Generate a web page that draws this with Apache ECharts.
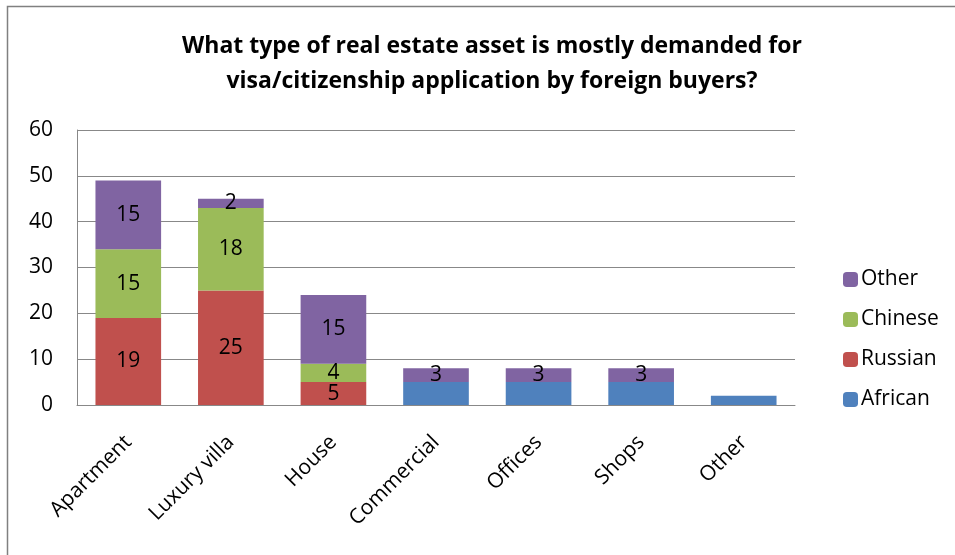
<!DOCTYPE html>
<html>
<head>
<meta charset="utf-8">
<script src="https://cdn.jsdelivr.net/npm/echarts@6/dist/echarts.min.js"></script>
<style>
html, body { margin: 0; padding: 0; background: #fff; }
#main { width: 955px; height: 555px; }
</style>
</head>
<body>
<div id="main"></div>
<script>
// data
var categories = ['Apartment', 'Luxury villa', 'House', 'Commercial', 'Offices', 'Shops', 'Other'];
var african = [0, 0, 0, 5, 5, 5, 2];
var russian = [19, 25, 5, 0, 0, 0, 0];
var chinese = [15, 18, 4, 0, 0, 0, 0];
var other = [15, 2, 15, 3, 3, 3, 0];
var yTicks = [0, 10, 20, 30, 40, 50, 60];

var font = '"Open Sans", "Noto Sans", sans-serif';
var myChart = echarts.init(document.getElementById('main'));

function barLabel(show) {
	return {
		show: show,
		position: 'inside',
		color: '#000',
		fontSize: 21,
		fontFamily: font,
		formatter: function (p) { return p.value ? p.value : ''; }
	};
}

var option = {
	animation: false,
	title: {
		text: 'What type of real estate asset is mostly demanded for\nvisa/citizenship application by foreign buyers?',
		left: 487,
		top: 24,
		textAlign: 'center',
		textStyle: {
			fontFamily: font,
			fontSize: 23,
			fontWeight: 'bold',
			color: '#000',
			lineHeight: 35
		}
	},
	graphic: [{
		type: 'rect',
		shape: { x: 7.5, y: 6.5, width: 960, height: 560 },
		style: { fill: 'none', stroke: '#808080', lineWidth: 1.5 },
		silent: true
	}],
	legend: {
		orient: 'vertical',
		left: 838,
		top: 264,
		itemWidth: 15,
		itemHeight: 15,
		itemGap: 19,
		data: ['Other', 'Chinese', 'Russian', 'African'],
		textStyle: { fontFamily: font, fontSize: 21, color: '#000', padding: [0, 0, 0, -2] }
	},
	grid: { left: 77, right: 160, top: 130, bottom: 150 },
	xAxis: {
		type: 'category',
		data: categories,
		axisLine: { show: true, lineStyle: { color: '#888' } },
		axisTick: { show: false },
		axisLabel: {
			rotate: 45,
			interval: 0,
			color: '#000',
			fontSize: 21,
			fontFamily: font,
			margin: 34
		}
	},
	yAxis: {
		type: 'value',
		min: yTicks[0],
		max: yTicks[yTicks.length - 1],
		interval: 10,
		axisLine: { show: true, lineStyle: { color: '#888' } },
		axisTick: { show: false },
		axisLabel: { color: '#000', fontSize: 21, fontFamily: font, margin: 24 },
		splitLine: { show: true, lineStyle: { color: '#888', width: 1 } }
	},
	series: [
		{ name: 'African', type: 'bar', stack: 'all', barWidth: '64%', data: african,
		  itemStyle: { color: '#4F81BD' }, label: barLabel(false) },
		{ name: 'Russian', type: 'bar', stack: 'all', data: russian,
		  itemStyle: { color: '#C0504D' }, label: barLabel(true) },
		{ name: 'Chinese', type: 'bar', stack: 'all', data: chinese,
		  itemStyle: { color: '#9BBB59' }, label: barLabel(true) },
		{ name: 'Other', type: 'bar', stack: 'all', data: other,
		  itemStyle: { color: '#8064A2' }, label: barLabel(true) }
	]
};

myChart.setOption(option);
window.onresize = myChart.resize;
</script>
</body>
</html>
